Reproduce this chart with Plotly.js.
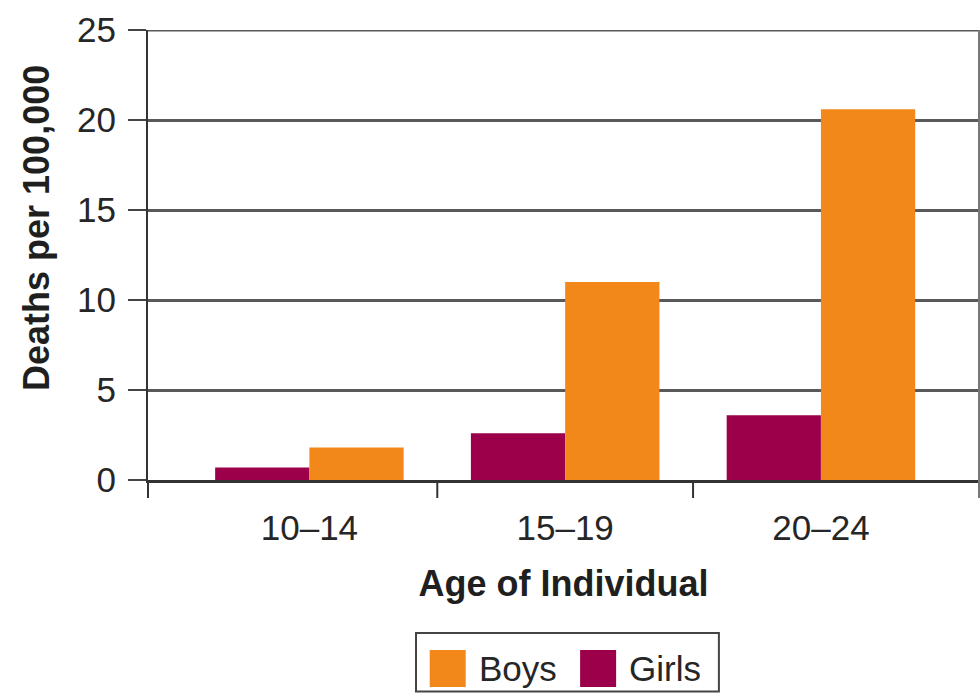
<!DOCTYPE html>
<html>
<head>
<meta charset="utf-8">
<script src="https://cdn.plot.ly/plotly-3.0.1.min.js"></script>
<style>
  html, body { margin: 0; padding: 0; background: #ffffff; }
  #chart { width: 980px; height: 698px; }
</style>
</head>
<body>
<div id="chart"></div>
<script>
// Age groups and death rates per 100,000
const ageGroups = ['10–14', '15–19', '20–24'];
const girlsRates = [0.7, 2.6, 3.6];
const boysRates = [1.8, 11.0, 20.6];

const seriesNames = ['Boys', 'Girls'];
const seriesColors = ['#F2871A', '#9C004B'];

const FONT = '"Liberation Sans", Arial, Helvetica, sans-serif';
const TEXT = '#262626';

// Girls first so they sit on the left of each pair
const traces = [
  {
    type: 'bar', name: seriesNames[1], x: ageGroups, y: girlsRates,
    marker: { color: seriesColors[1], line: { width: 0 } },
    showlegend: false, hoverinfo: 'x+y+name'
  },
  {
    type: 'bar', name: seriesNames[0], x: ageGroups, y: boysRates,
    marker: { color: seriesColors[0], line: { width: 0 } },
    showlegend: false, hoverinfo: 'x+y+name'
  }
];

// Outside tick marks between age groups, plus the frame lines running below zero
const tickDrop = -18 / 450;
const shapes = [
  { type: 'line', xref: 'x', yref: 'paper', x0: 0.5, x1: 0.5, y0: 0, y1: tickDrop, line: { color: '#333', width: 2 } },
  { type: 'line', xref: 'x', yref: 'paper', x0: 1.5, x1: 1.5, y0: 0, y1: tickDrop, line: { color: '#333', width: 2 } },
  { type: 'line', xref: 'paper', yref: 'paper', x0: 0, x1: 0, y0: 0, y1: tickDrop, line: { color: '#333', width: 2 } },
  { type: 'line', xref: 'paper', yref: 'paper', x0: 1, x1: 1, y0: 1, y1: tickDrop, line: { color: '#777', width: 2 } },
  // top grid line at 25 sits on the plot edge
  { type: 'line', xref: 'paper', yref: 'y', x0: 0, x1: 1, y0: 25, y1: 25, line: { color: '#595959', width: 3 }, layer: 'below' }
];

const annotations = [
  // vertical y-axis title, set a little above the plot's middle
  { xref: 'paper', yref: 'paper', x: (37 - 148) / 831, y: (480 - 228) / 450,
    xanchor: 'center', yanchor: 'middle', showarrow: false, textangle: -90,
    text: '<b>Deaths per 100,000</b>', font: { family: FONT, size: 36, color: '#1f1f1f' } }
];

// Boxed legend below the axis title
const legBox = { x0: 0.3225, x1: 0.687, y0: -0.47, y1: -0.34 };
shapes.push({ type: 'rect', xref: 'paper', yref: 'paper', x0: legBox.x0, x1: legBox.x1, y0: legBox.y0, y1: legBox.y1,
  line: { color: '#444', width: 2 }, fillcolor: 'rgba(0,0,0,0)' });
const swatchX = [0.339, 0.52];
seriesNames.forEach((name, i) => {
  const sx = swatchX[i];
  shapes.push({ type: 'rect', xref: 'paper', yref: 'paper', x0: sx, x1: sx + 36 / 831,
    y0: (480 - 687) / 450, y1: (480 - 650) / 450, line: { width: 0 }, fillcolor: seriesColors[i] });
  annotations.push({ xref: 'paper', yref: 'paper', x: sx + 47 / 831, y: (480 - 668) / 450,
    xanchor: 'left', yanchor: 'middle', showarrow: false, text: name,
    font: { family: FONT, size: 35, color: TEXT } });
});

const layout = {
  width: 980, height: 698,
  margin: { l: 148, r: 1, t: 30, b: 218 },
  paper_bgcolor: '#ffffff', plot_bgcolor: '#ffffff',
  barmode: 'group', bargap: 0.263, bargroupgap: 0,
  font: { family: FONT, color: TEXT },
  xaxis: {
    type: 'category', range: [-0.631, 2.618],
    showline: true, linecolor: '#333', linewidth: 2.5,
    ticks: '', showgrid: false, zeroline: false,
    tickfont: { family: FONT, size: 35, color: TEXT },
    ticklabelstandoff: 15,
    title: { text: '<b>Age of Individual</b>', font: { family: FONT, size: 36, color: '#1f1f1f' }, standoff: 26 },
    fixedrange: true
  },
  yaxis: {
    range: [0, 25], dtick: 5, tick0: 0,
    showline: true, linecolor: '#333', linewidth: 2,
    ticks: 'outside', ticklen: 18, tickwidth: 2.5, tickcolor: '#444',
    showgrid: true, gridcolor: '#595959', gridwidth: 3, zeroline: false,
    tickfont: { family: FONT, size: 35, color: TEXT },
    ticklabelstandoff: 5,
    fixedrange: true
  },
  shapes: shapes,
  annotations: annotations,
  showlegend: false
};

Plotly.newPlot('chart', traces, layout, { displayModeBar: false, staticPlot: true });
</script>
</body>
</html>
